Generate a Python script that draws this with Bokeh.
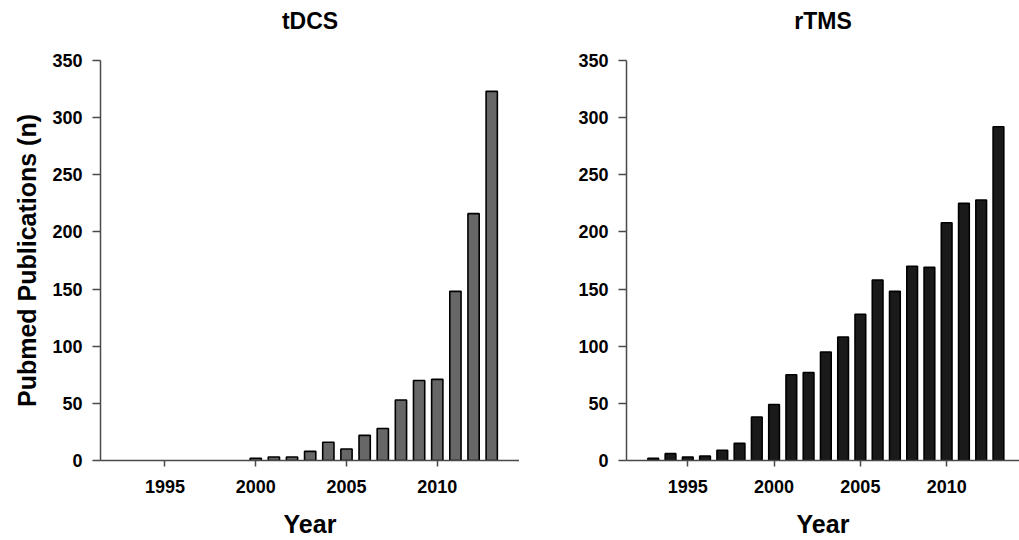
from bokeh.plotting import figure
from bokeh.layouts import row
from bokeh.models import Range1d, FixedTicker, ColumnDataSource, Title
from bokeh.embed import file_html
from bokeh.resources import INLINE

years = list(range(1993, 2014))
tdcs = [0, 0, 0, 0, 0, 0, 0, 2, 3, 3, 8, 16, 10, 22, 28, 53, 70, 71, 148, 216, 323]
rtms = [2, 6, 3, 4, 9, 15, 38, 49, 75, 77, 95, 108, 128, 158, 148, 170, 169, 208, 225, 228, 292]
x_ticks = [1995, 2000, 2005, 2010]
y_ticks = [0, 50, 100, 150, 200, 250, 300, 350]

FONT = "Liberation Sans"
AXIS_COLOR = "#4a4a4a"


def make(title, vals, fill, width, border_left, x_end, ylabel):
    p = figure(width=width, height=540, output_backend="svg", toolbar_location=None,
               x_range=Range1d(1991.45, x_end), y_range=Range1d(0, 350),
               min_border_left=border_left, min_border_top=60, min_border_bottom=80,
               min_border_right=0, title=title)
    pairs = [(y, v) for y, v in zip(years, vals) if v > 0]
    src = ColumnDataSource(dict(x=[a for a, _ in pairs], top=[b for _, b in pairs]))
    p.vbar(x="x", top="top", source=src, width=0.62, fill_color=fill,
           line_color="black", line_width=1.6)
    # real title (outermost) and a small spacer between it and the frame
    p.title.text_font = FONT
    p.title.text_font_size = "23px"
    p.title.text_font_style = "bold"
    p.title.text_color = "black"
    p.title.align = "center"
    p.title.standoff = 6
    p.add_layout(Title(text=" ", text_font_size="2px", standoff=20), "above")
    p.grid.visible = False
    p.outline_line_color = None
    for ax in (p.xaxis[0], p.yaxis[0]):
        ax.axis_line_color = AXIS_COLOR
        ax.axis_line_width = 1.5
        ax.major_tick_line_color = AXIS_COLOR
        ax.major_tick_line_width = 1.5
        ax.major_tick_in = 0
        ax.minor_tick_line_color = None
        ax.major_label_text_font = FONT
        ax.major_label_text_font_style = "bold"
        ax.major_label_text_font_size = "18px"
        ax.major_label_text_color = "black"
        ax.axis_label_text_font = FONT
        ax.axis_label_text_font_style = "bold"
        ax.axis_label_text_font_size = "25px"
        ax.axis_label_text_color = "black"
    p.xaxis[0].ticker = FixedTicker(ticks=x_ticks)
    p.yaxis[0].ticker = FixedTicker(ticks=y_ticks)
    p.xaxis[0].major_tick_out = 6
    p.yaxis[0].major_tick_out = 8
    p.xaxis[0].major_label_standoff = 13
    p.yaxis[0].major_label_standoff = 10
    p.xaxis[0].axis_label = "Year"
    p.xaxis[0].axis_label_standoff = 14
    if ylabel:
        p.yaxis[0].axis_label = ylabel
        p.yaxis[0].axis_label_standoff = 8
    return p


p1 = make("tDCS", tdcs, "#676767", 519, 100, 2014.53, "Pubmed Publications (n)")
p2 = make("rTMS", rtms, "#1a1a1a", 500, 107, 2014.22, None)

layout = row(p1, p2)
open("out.html", "w").write(file_html(layout, INLINE))
